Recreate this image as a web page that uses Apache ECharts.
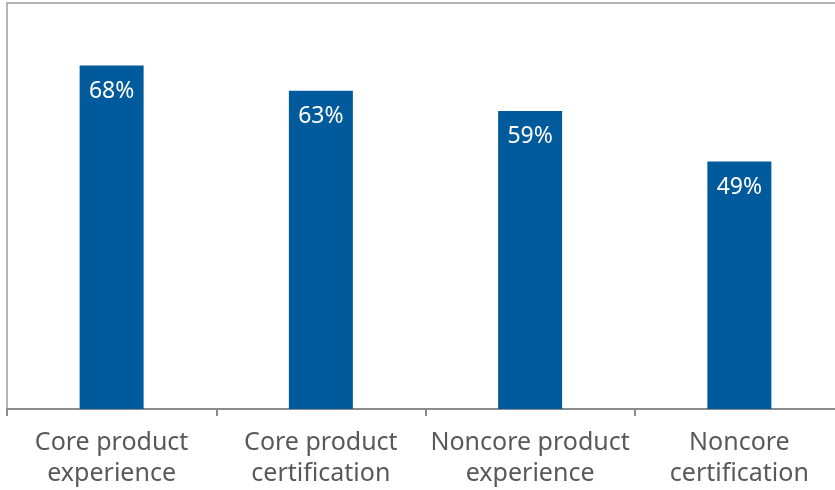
<!DOCTYPE html>
<html><head><meta charset="utf-8">
<script src="https://cdn.jsdelivr.net/npm/echarts@6/dist/echarts.min.js"></script>
<style>html,body{margin:0;padding:0;background:#fff}#c{width:835px;height:490px}</style>
</head><body><div id="c"></div>
<script>
const categories = ['Core product\nexperience', 'Core product\ncertification', 'Noncore product\nexperience', 'Noncore\ncertification'];
const values = [68, 63, 59, 49];
const chart = echarts.init(document.getElementById('c'));
chart.setOption({
  animation: false,
  grid: {left: 7, top: 3, width: 837, height: 406, show: true, borderColor: '#b4b4b4', borderWidth: 2, containLabel: false, outerBoundsMode: 'none'},
  xAxis: {
    type: 'category', data: categories,
    axisLine: {lineStyle: {color: '#8c8c8c', width: 2}},
    axisTick: {show: true, length: 7, lineStyle: {color: '#8c8c8c', width: 2}},
    axisLabel: {color: '#595959', fontSize: 25, fontFamily: 'Noto Sans', lineHeight: 31, margin: 18, interval: 0}
  },
  yAxis: {type: 'value', min: 0, max: 80.4, show: false, splitLine: {show: false}},
  series: [{
    type: 'bar', data: values, barWidth: 64,
    itemStyle: {color: '#005a9b'},
    label: {show: true, position: 'insideTop', distance: 14, color: '#fff', fontSize: 23, fontFamily: 'Noto Sans', formatter: '{c}%'}
  }]
});
</script></body></html>
